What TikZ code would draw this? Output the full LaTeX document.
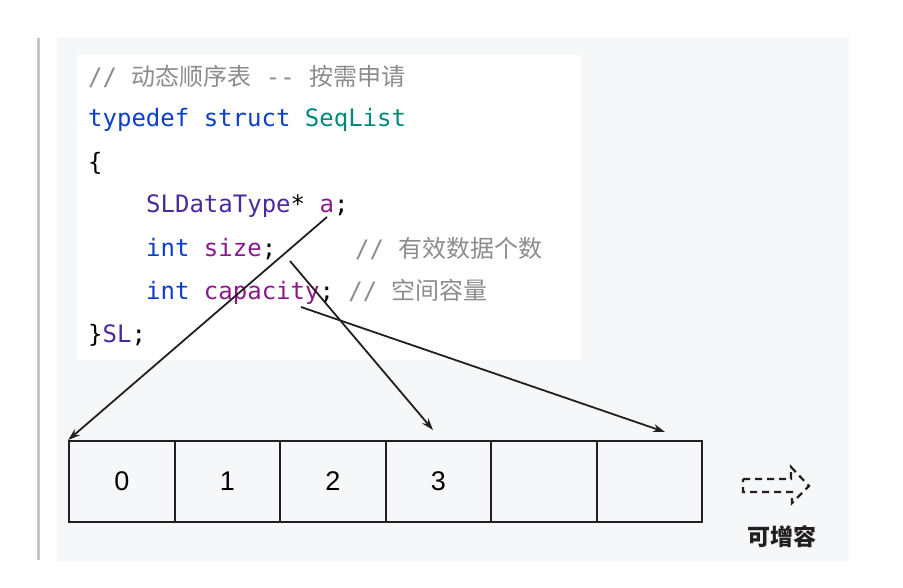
\documentclass[tikz,border=0pt]{standalone}
\usepackage{fontspec}
\usepackage{xcolor}
\usepackage{tikz}
\usetikzlibrary{arrows.meta}
\setmonofont{DejaVu Sans Mono}
\setsansfont{Liberation Sans}
\newfontfamily\cjk{Noto Sans CJK SC}
\definecolor{kw}{HTML}{0B3FC8}
\definecolor{tname}{HTML}{00897B}
\definecolor{utype}{HTML}{4A2A9C}
\definecolor{field}{HTML}{8A1A8A}
\definecolor{cmt}{HTML}{8C8C8C}
\definecolor{panel}{HTML}{F6F7F9}
\definecolor{ink}{HTML}{231F20}

\begin{document}
\begin{tikzpicture}[x=1pt,y=-1pt,
    code/.style={anchor=west,inner sep=0pt,font=\ttfamily\fontsize{24}{28}\selectfont},
    cell/.style={draw=ink,line width=2pt,minimum width=105.5pt,minimum height=81pt,
        inner sep=0pt,font=\sffamily\fontsize{27}{30}\selectfont},
    ptr/.style={-{Stealth[length=12pt,width=8pt]},line width=1.8pt,ink}]
    \useasboundingbox (0,0) rectangle (903,588);
    % page background and quote bar
    \fill[panel] (57,37) rectangle (849,561);
    \draw[black!22,line width=3pt] (38,38) -- (38,560);
    \fill[white] (77,55) rectangle (581,360);

    % the struct
    \node[code] (l1) at (88,76) {\color{cmt}// {\cjk 动态顺序表} -- {\cjk 按需申请}};
    \node[code] (l2) at (88,120) {\color{kw}typedef struct \color{tname}SeqList};
    \node[code] (l3) at (88,163) {\{};
    \node[code] (l4) at (146,206) {\color{utype}SLDataType\color{black}* \color{field}a\color{black};};
    \node[code] (l5) at (146,249) {\color{kw}int \color{field}size\color{black};};
    \node[code] (c5) at (355,249) {\color{cmt}// {\cjk 有效数据个数}};
    \node[code] (l6) at (146,292) {\color{kw}int \color{field}capacity\color{black}; \color{cmt}// {\cjk 空间容量}};
    \node[code] (l7) at (88,335) {\}\color{utype}SL\color{black};};

    % the array
    \foreach \i/\v in {0/0, 1/1, 2/2, 3/3, 4/{}, 5/{}} {
        \node[cell] (c\i) at ({122+105.5*\i},481.5) {\v};
    }

    % pointers into the array
    \coordinate (pa) at (327,217);
    \coordinate (psize) at (290,261);
    \coordinate (pcap) at (301,307);
    \coordinate (tsize) at (433,430);
    \coordinate (tcap) at (665,432);
    \draw[ptr] (pa) -- (c0.north west);
    \draw[ptr] (psize) -- (tsize);
    \draw[ptr] (pcap) -- (tcap);

    % can grow
    \draw[ink,line width=2.2pt,dash pattern=on 7pt off 5pt,line join=miter]
        (743,479) -- (791,479) -- (791,467) -- (809,486) -- (792,503)
        -- (792,492) -- (743,492) -- cycle;
    \node[font=\cjk\bfseries\fontsize{23}{26}\selectfont,ink] (grow) at (782,537) {可增容};
\end{tikzpicture}
\end{document}
